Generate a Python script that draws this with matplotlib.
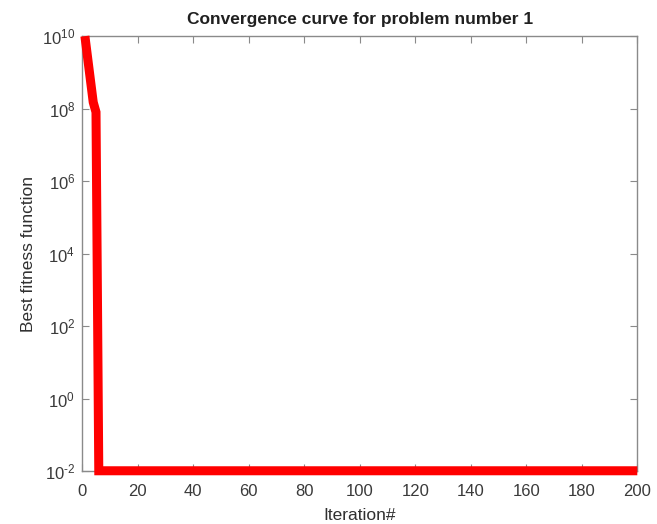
import numpy as np
import matplotlib
matplotlib.use('Agg')
import matplotlib.pyplot as plt
from matplotlib.ticker import NullLocator, FixedLocator, FuncFormatter

plt.rcParams['font.family'] = ['Liberation Sans', 'DejaVu Sans']
plt.rcParams['mathtext.fontset'] = 'custom'
plt.rcParams['mathtext.rm'] = 'Liberation Sans'

# convergence data
start_iters = [1, 2, 3, 4, 5, 6]
start_vals = [1e10, 2.5e9, 6e8, 1.5e8, 8e7, 0.0102]
flat_val = 0.0102
n_iter = 200

iters = list(range(1, n_iter + 1))
vals = start_vals + [flat_val] * (n_iter - len(start_vals))

x_ticks = list(range(0, 201, 20))
y_ticks = [1e-2, 1e0, 1e2, 1e4, 1e6, 1e8, 1e10]


def pow_label(v, pos):
    e = int(round(np.log10(v)))
    if e < 0:
        return r'$\mathregular{10^{\text{-}%d}}$' % (-e)
    return r'$\mathregular{10^{%d}}$' % e


fig = plt.figure(figsize=(6.57, 5.24), dpi=100)
ax = fig.add_axes([0.125, 0.101, 0.845, 0.830])

ax.semilogy(iters, vals, color='#ff0000', linewidth=6.5, solid_joinstyle='miter',
            solid_capstyle='butt', clip_on=False, zorder=3)

ax.set_xlim(0, 200)
ax.set_ylim(1e-2, 1e10)
ax.xaxis.set_major_locator(FixedLocator(x_ticks))
ax.yaxis.set_major_locator(FixedLocator(y_ticks))
ax.yaxis.set_major_formatter(FuncFormatter(pow_label))
ax.yaxis.set_minor_locator(NullLocator())

for s in ax.spines.values():
    s.set_color('#8a8a8a')
    s.set_linewidth(1.0)
ax.tick_params(direction='in', top=True, right=True, length=5, width=0.8,
               colors='#8a8a8a', labelcolor='#3a3a3a', labelsize=12)
ax.tick_params(axis='x', pad=9)
ax.tick_params(axis='y', pad=5)

ax.set_title('Convergence curve for problem number 1', fontsize=12.5,
             fontweight='bold', color='#202020', pad=9)
ax.set_xlabel('Iteration#', fontsize=12.5, color='#303030', labelpad=7)
ax.set_ylabel('Best fitness function', fontsize=12.5, color='#303030', labelpad=4)

fig.savefig('out.png', dpi=100, facecolor='white')
